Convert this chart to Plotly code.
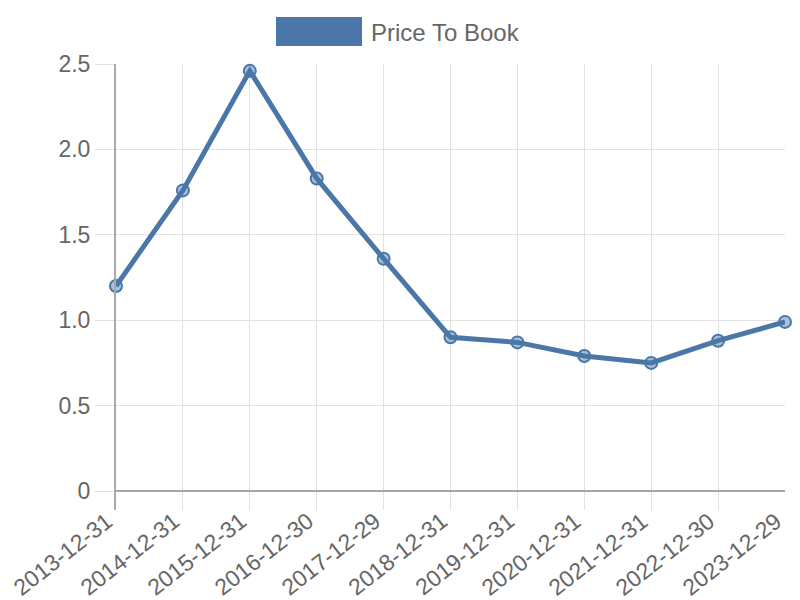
import plotly.graph_objects as go

dates = ["2013-12-31", "2014-12-31", "2015-12-31", "2016-12-30", "2017-12-29",
         "2018-12-31", "2019-12-31", "2020-12-31", "2021-12-31", "2022-12-30", "2023-12-29"]
price_to_book = [1.20, 1.76, 2.46, 1.83, 1.36, 0.90, 0.87, 0.79, 0.75, 0.88, 0.99]
series_name = "Price To Book"
y_ticks = [0, 0.5, 1.0, 1.5, 2.0, 2.5]
y_tick_text = ["0", "0.5", "1.0", "1.5", "2.0", "2.5"]

blue = "#4a77a8"
font = dict(family="Liberation Sans, Arial, sans-serif", size=24, color="#666666")
xfont = dict(family="Liberation Sans, Arial, sans-serif", size=23, color="#666666")
yfont = dict(family="Liberation Sans, Arial, sans-serif", size=23, color="#666666")

# plot area in page pixels: x 116..785, y 64..510 (value 0 sits at y=491,
# the extra 19 px below it carry the vertical grid lines down as tick marks)
PX0, PX1, PY0, PY1 = 116, 785, 64, 510
px_per_unit = (491 - 64) / 2.5
y_min = -(PY1 - 491) / px_per_unit


def paper_x(px):
    return (px - PX0) / (PX1 - PX0)


def paper_y(py):
    return (PY1 - py) / (PY1 - PY0)


fig = go.Figure()
fig.add_trace(go.Scatter(
    x=dates, y=price_to_book, name=series_name, mode="lines+markers",
    line=dict(color=blue, width=5),
    marker=dict(size=12, color="rgba(74,119,168,0.45)", line=dict(color=blue, width=2)),
    cliponaxis=False, showlegend=False,
))

# page body has an 8px margin, so the figure is 792x592 and offset by 8px
fig.update_layout(
    width=792, height=592,
    margin=dict(l=PX0 - 8, r=800 - PX1, t=PY0 - 8, b=600 - PY1),
    paper_bgcolor="white", plot_bgcolor="white",
    font=font,
    xaxis=dict(type="category", range=[0, len(dates) - 1],
               showgrid=True, gridcolor="#e2e2e2", gridwidth=1,
               ticks="", showline=False, showticklabels=False,
               zeroline=False, automargin=False),
    yaxis=dict(range=[y_min, 2.5], tickvals=y_ticks, ticktext=y_tick_text,
               showgrid=True, gridcolor="#e2e2e2", gridwidth=1,
               ticks="outside", ticklen=19, tickcolor="#e2e2e2",
               showline=True, linecolor="#a9a9a9", linewidth=2,
               zeroline=True, zerolinecolor="#a6a6a6", zerolinewidth=2,
               tickfont=yfont, automargin=False),
)

# rotated category labels, top-right corner just under each tick end
for d in dates:
    fig.add_annotation(text=d, xref="x", yref="paper", x=d, y=paper_y(PY1 - 4),
                       xanchor="right", yanchor="top", textangle=-38,
                       showarrow=False, font=xfont, xshift=3, borderpad=0)

# legend drawn as box + text
fig.add_shape(type="rect", xref="paper", yref="paper",
              x0=paper_x(276), x1=paper_x(362),
              y0=paper_y(46), y1=paper_y(17),
              fillcolor=blue, line=dict(width=0))
fig.add_annotation(text=series_name, xref="paper", yref="paper",
                   x=paper_x(369), y=paper_y(32),
                   xanchor="left", yanchor="middle", showarrow=False, font=font)

fig.write_html("out.html")
